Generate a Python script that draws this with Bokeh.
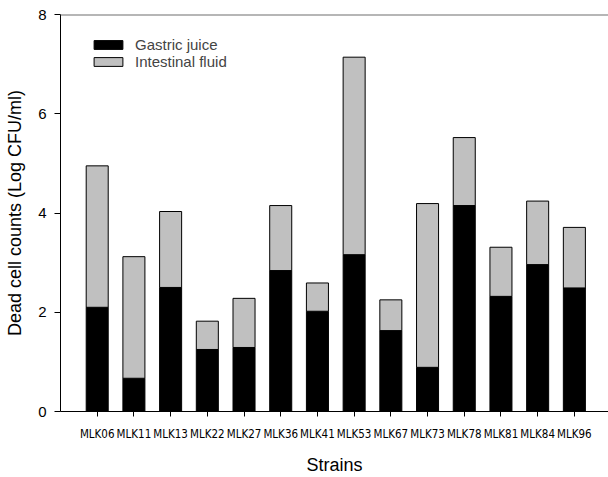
from bokeh.plotting import figure
from bokeh.models import ColumnDataSource, FixedTicker, Range1d, Legend, LegendItem, Span
from bokeh.embed import file_html
from bokeh.resources import INLINE

strains = ["MLK06", "MLK11", "MLK13", "MLK22", "MLK27", "MLK36", "MLK41",
           "MLK53", "MLK67", "MLK73", "MLK78", "MLK81", "MLK84", "MLK96"]
gastric = [2.10, 0.67, 2.50, 1.25, 1.29, 2.84, 2.02, 3.16, 1.63, 0.89, 4.15, 2.32, 2.96, 2.49]
total = [4.95, 3.12, 4.03, 1.82, 2.28, 4.15, 2.59, 7.14, 2.25, 4.19, 5.52, 3.31, 4.24, 3.71]
intestinal = [round(t - g, 2) for t, g in zip(total, gastric)]
y_ticks = [0, 2, 4, 6, 8]

xpos = list(range(1, len(strains) + 1))
src = ColumnDataSource(dict(x=xpos, gastric=gastric, intestinal=intestinal))

p = figure(width=608, height=477, output_backend="svg", toolbar_location=None,
           x_range=Range1d(0, 14.93), y_range=Range1d(0, 8),
           min_border_left=60, min_border_right=0, min_border_top=14, min_border_bottom=66)

rs = p.vbar_stack(["gastric", "intestinal"], x="x", width=0.6, source=src,
                  color=["black", "#c0c0c0"], line_color="black", line_width=1)

p.xgrid.visible = False
p.ygrid.visible = False
p.background_fill_color = "white"
p.border_fill_color = "white"
p.outline_line_color = None
p.add_layout(Span(location=y_ticks[-1], dimension="width", line_color="#6f6f6f", line_width=2))

p.xaxis.ticker = FixedTicker(ticks=xpos)
p.xaxis.major_label_overrides = {x: s for x, s in zip(xpos, strains)}
p.xaxis.major_label_text_font = "'DejaVu Sans Condensed', 'Liberation Sans'"
p.xaxis.major_label_text_font_size = "11.5px"
p.xaxis.major_label_standoff = 10
p.xaxis.minor_tick_line_color = None
p.xaxis.major_tick_in = 0
p.xaxis.major_tick_out = 5
p.xaxis.axis_label = "Strains"
p.xaxis.axis_label_standoff = 11

p.yaxis.ticker = FixedTicker(ticks=y_ticks)
p.yaxis.minor_tick_line_color = None
p.yaxis.major_tick_in = 0
p.yaxis.major_tick_out = 6
p.yaxis.major_label_standoff = 8
p.yaxis.major_label_text_font = "Liberation Sans"
p.yaxis.major_label_text_font_size = "15px"
p.yaxis.axis_label = "Dead cell counts (Log CFU/ml)"
p.yaxis.axis_label_standoff = 10

for ax in (p.xaxis, p.yaxis):
    ax.axis_label_text_font = "Liberation Sans"
    ax.axis_label_text_font_size = "18px"
    ax.axis_label_text_font_style = "normal"
    ax.axis_label_text_color = "black"
    ax.major_label_text_color = "black"
    ax.axis_line_color = "black"
    ax.major_tick_line_color = "black"

legend = Legend(items=[LegendItem(label="Gastric juice", renderers=[rs[0]]),
                       LegendItem(label="Intestinal fluid", renderers=[rs[1]])],
                location=(30, 341), padding=0, margin=0, spacing=0,
                glyph_width=36, glyph_height=11, label_height=11,
                label_standoff=9, label_text_font="Liberation Sans",
                label_text_font_size="15px", border_line_color=None,
                background_fill_alpha=0)
p.add_layout(legend)

open("out.html", "w").write(file_html(p, INLINE))
